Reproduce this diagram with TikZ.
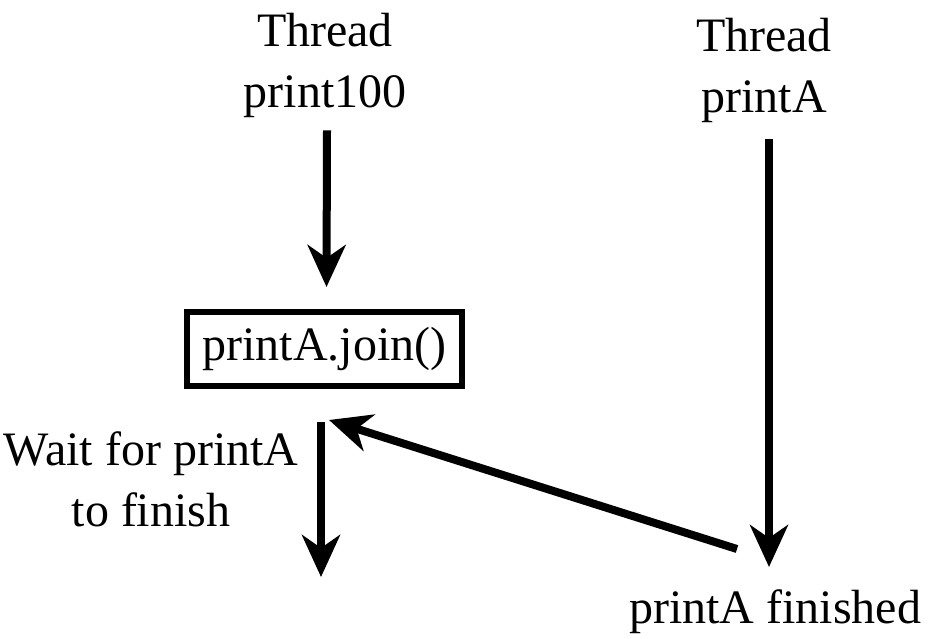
\documentclass[tikz,border=0pt]{standalone}
\usepackage{fontspec}
\setmainfont{Liberation Serif}
\usetikzlibrary{arrows.meta}
\begin{document}
\begin{tikzpicture}[x=1pt,y=-1pt,
  lbl/.style={font=\fontsize{48}{61}\selectfont, inner sep=0pt, align=center},
  arr/.style={line width=8pt, -{Stealth[length=42pt,width=38pt,inset=13pt]}},
  callbox/.style={draw, line width=6pt, minimum width=275pt, minimum height=74pt,
    inner sep=0pt, font=\fontsize{48}{61}\selectfont}]
\useasboundingbox (0,0) rectangle (941,638);

% thread labels
\node[lbl] (t1) at (325,65) {Thread\\print100};
\node[lbl] (t2) at (764,70) {Thread\\printA};

% the join call
\node[callbox] (join) at (324.5,349) {printA.join()};

% waiting note and finish note
\node[lbl] (wait) at (151,479) {Wait for printA\\to finish};
\node[lbl, anchor=base] (fin) at (775,623) {printA finished};

% free ends of connectors
\coordinate (waitend) at (321,577);
\coordinate (done) at (737,549);

% connectors
\draw[arr] ([xshift=2pt,yshift=-13pt]t1.south) -- ([xshift=2pt,yshift=22pt]join.north);
\draw[arr] ([xshift=5pt,yshift=-17pt]t2.south) -- (769,567);
\draw[arr] ([xshift=-3.5pt,yshift=-33pt]join.south) -- (waitend);
\draw[arr] (done) -- ([xshift=4.5pt,yshift=-31pt]join.south);
\end{tikzpicture}
\end{document}
